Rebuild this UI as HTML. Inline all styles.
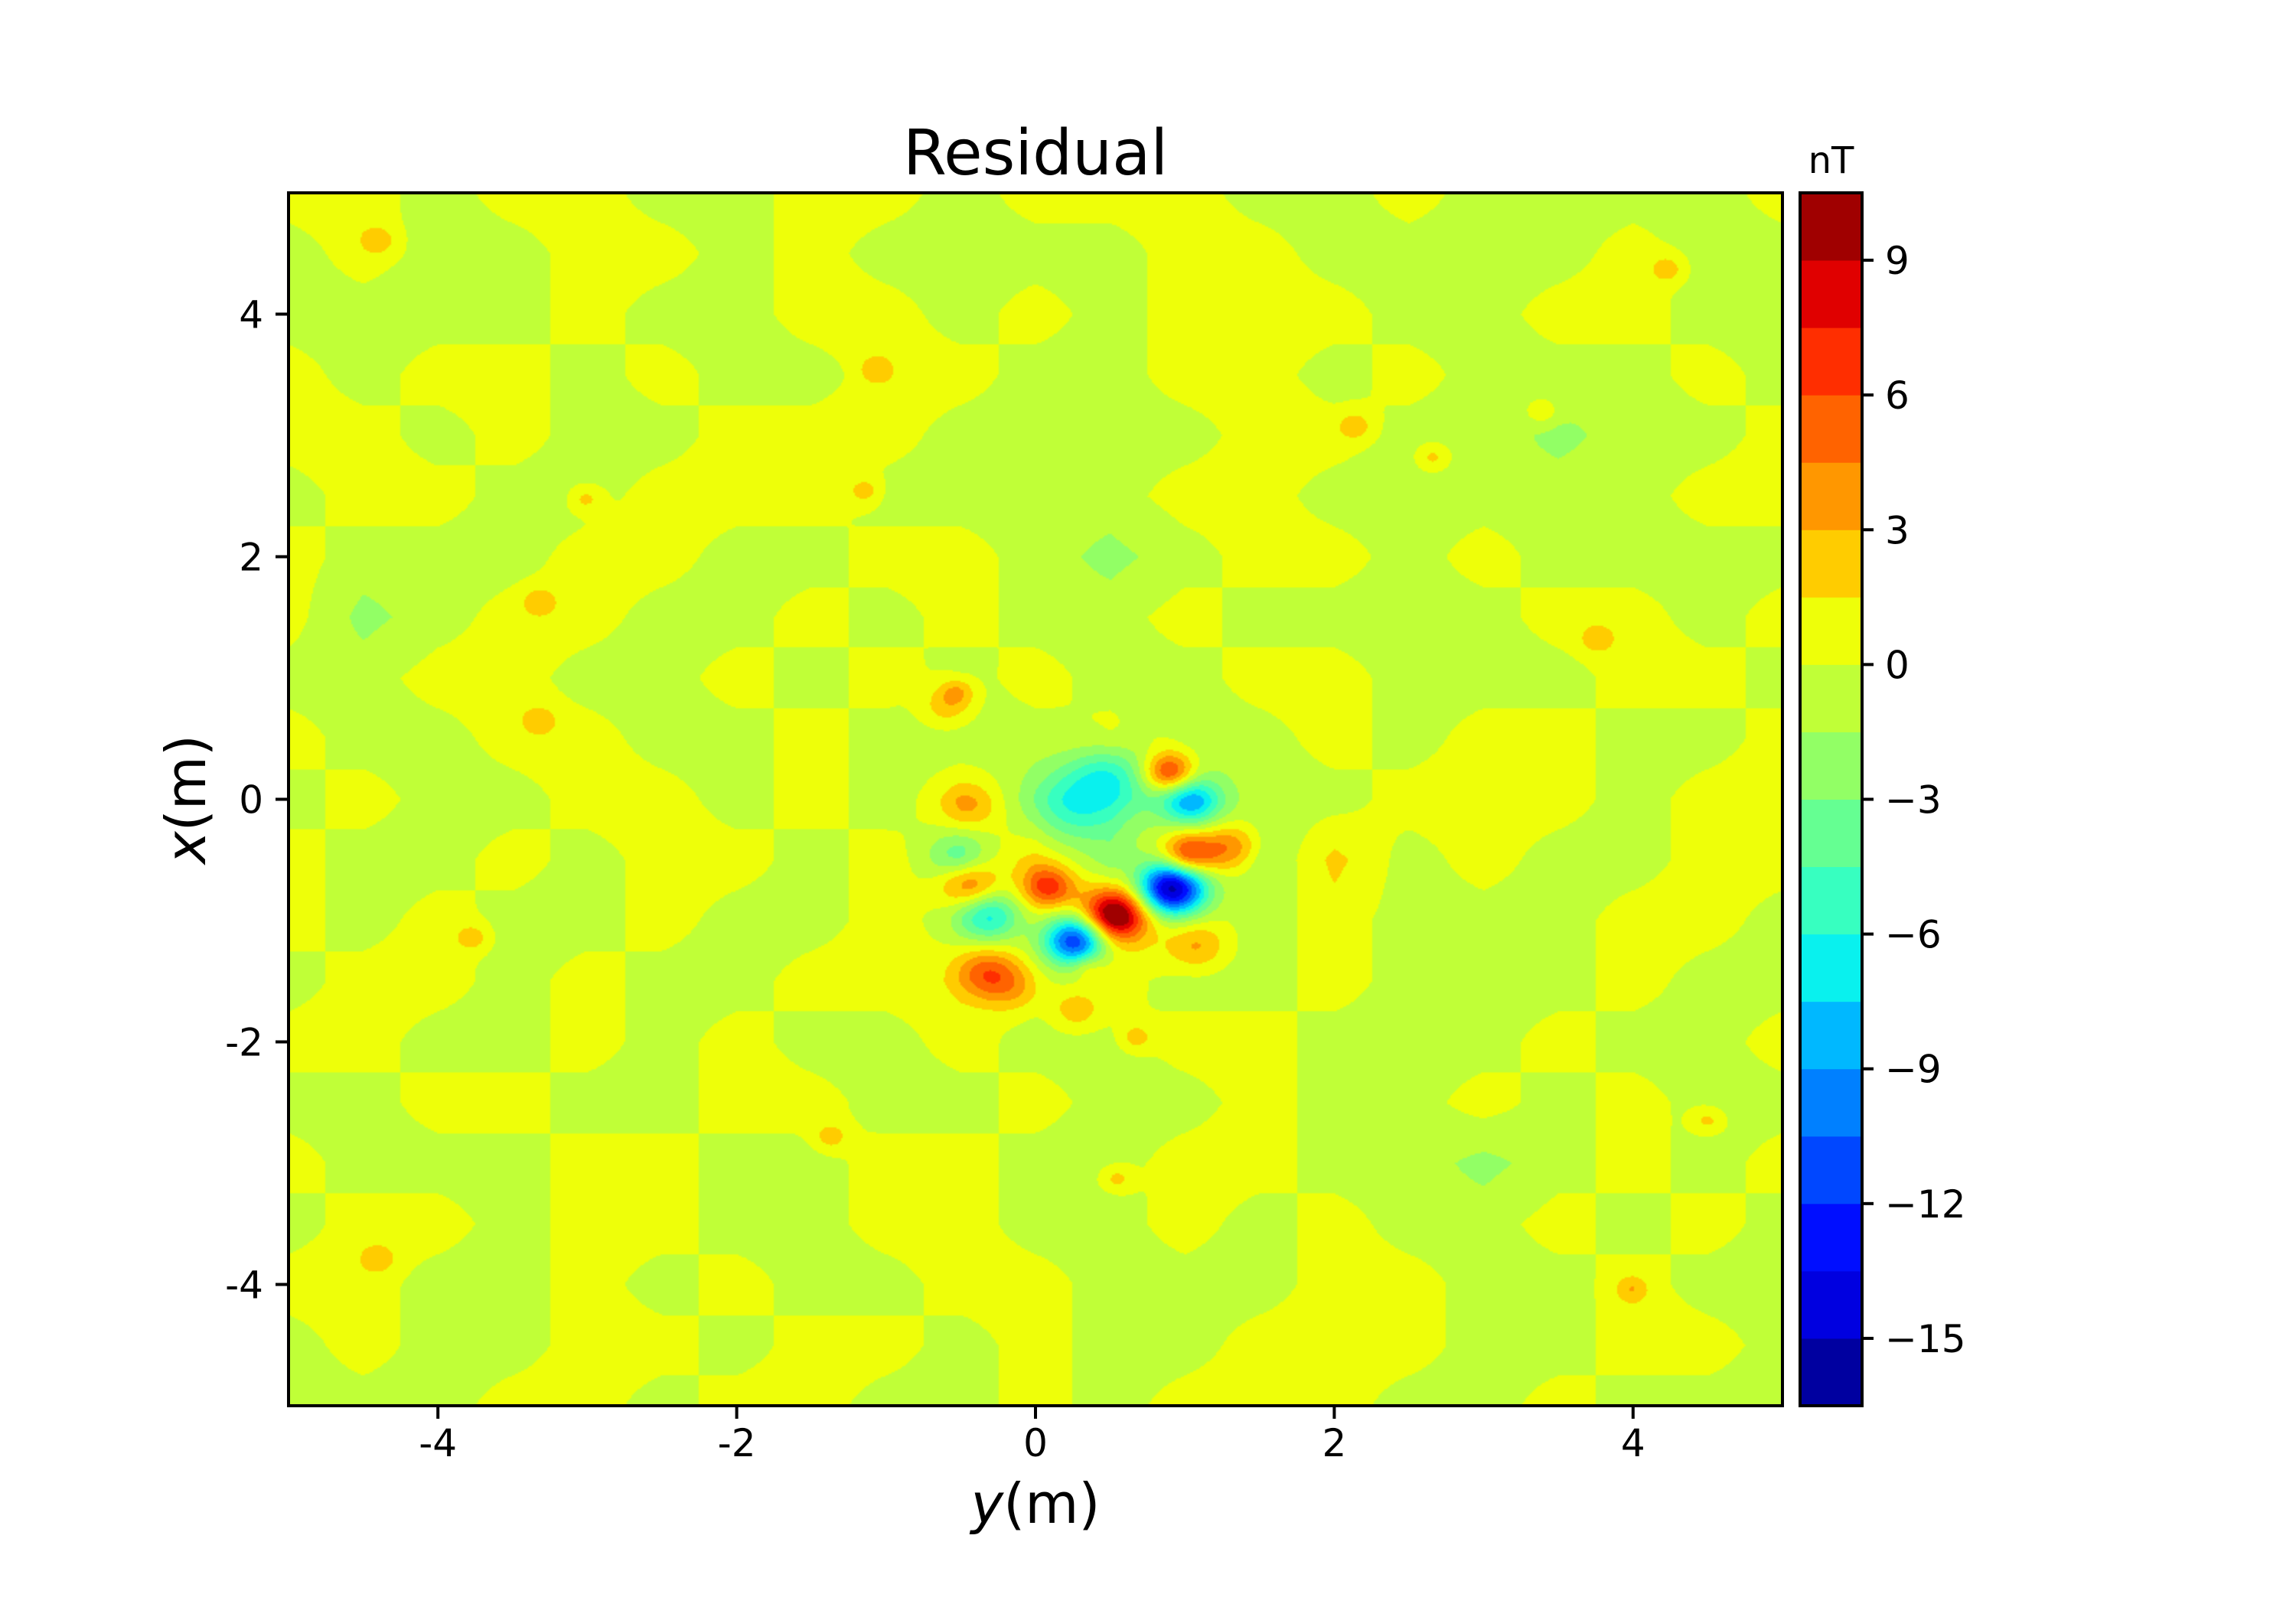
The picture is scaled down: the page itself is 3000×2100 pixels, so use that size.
<!DOCTYPE html>
<html><head><meta charset="utf-8"><style>
html,body{margin:0;padding:0;background:#fff;}
#wrap{position:relative;width:3000px;height:2100px;overflow:hidden;font-family:"DejaVu Sans","Liberation Sans",sans-serif;color:#000;}
</style></head><body>
<div id="wrap">
<canvas id="field" width="976" height="793" style="position:absolute;left:377px;top:252px;width:1952px;height:1585px;"></canvas>
<svg id="svg" width="3000" height="2100" style="position:absolute;left:0;top:0;"></svg>
</div>
<script>
// ---- data ----
const bgRows = [
"yygyyggyygyyyggygggg",
"gyggyygyggggyyggggygg",
"ggggyggyygygyyyggyygg",
"ygyygyggyyggyygygggyg",
"yygyggyyyggggyyggGggy",
"gyyggyyyggggyygggggyy",
"ygggyyggyygGgyygygggg",
"yGgyyggygyggyggggyygy",
"ggyyggygygyggyygggyyg",
"yggyyggygggyggygyyggy",
"gyggyygygygGGggyyygyy",
"yggygyygygoGoGogyggyy",
"ygyggyggygyoygygggyyg",
"gyygyggyyygyggygggygg",
"yyggygyggyggyygggyggy",
"ggyyggyyggyggyggygygg",
"ygggyyggyyggyyggGgygy",
"gyygyyggyyggygyggygyg",
"yyggygyggyygggyyggygg",
"gyggyygyygyggyyyggyyg",
"gggyygyyggygyyyggyggg"
];
const bgValues = {y:0.7, g:-0.7, G:-2.0, o:2.0};
// anomaly sources: position (y,x in m), amplitude (nT), width (m)
const srcY   = [0.53, 0.92, 0.27, -0.31, -0.45, 0.09, 0.90, 1.04, 0.24, 0.49, 1.02, 1.31, -0.33, -0.14, -0.45, 1.08, 0.27, -0.51, -0.59];
const srcX   = [-0.95,-0.73,-1.16,-0.96, -0.70,-0.72, 0.22,-0.02,-0.05, 0.19,-0.46,-0.39, -1.43, -1.55, -0.05,-1.21,-1.74, -0.48, 0.77];
const srcAmp = [11,  -17,  -13,  -6.5,   6.0,  6.0,  8.0, -7.5, -4.6, -4.2,  6.5,  4.5,   5.0,  3.0,   3.0,  3.2,  2.6,  -4.0,  2.8];
const srcSig = [0.15, 0.16, 0.15, 0.15, 0.14, 0.12, 0.12, 0.14, 0.22, 0.18, 0.13, 0.14, 0.15, 0.15, 0.14, 0.14, 0.12, 0.15, 0.12];
const spotY = [-4.40,-3.32,-1.07,-0.52,-1.14,-3.77,0.35,0.67,3.76,2.66,2.14,4.5,-4.40,3.99,-1.37,0.54,-3.01,4.23,3.39,-3.32];
const spotX = [4.61,0.65,3.54,0.89,2.54,-1.14,-1.38,-1.96,1.32,2.82,3.08,-2.65,-3.79,-4.04,-2.78,-3.13,2.48,4.37,3.20,1.63];
const spotAmp = [2.4,2.4,2.4,2.8,2.4,2.4,2.4,2.4,2.4,2.4,2.4,2.4,2.4,2.4,2.4,2.4,2.4,2.4,2.4,2.4];
const levels = [-16.5,-15,-13.5,-12,-10.5,-9,-7.5,-6,-4.5,-3,-1.5,0,1.5,3,4.5,6,7.5,9,10.5];
const xTicks = [-4,-2,0,2,4];
const xTickLabels = ["-4","-2","0","2","4"];
const yTicks = [4,2,0,-2,-4];
const yTickLabels = ["4","2","0","-2","-4"];
const cbTicks = [9,6,3,0,-3,-6,-9,-12,-15];
const cbTickLabels = ["9","6","3","0","\u22123","\u22126","\u22129","\u221212","\u221215"];

// ---- geometry ----
const L=377,R=2329,T=252,B=1837;
const sx = v => L + (v+5)/10*(R-L);
const sy = v => T + (5-v)/10*(B-T);
const CBL=2352, CBR=2433;
const cy = v => T + (10.5-v)/27*(B-T);

function seg(pts,t){
  for(let i=0;i<pts.length-1;i++){
    const [a,va]=pts[i],[b,vb]=pts[i+1];
    if(t<=b) return va+(vb-va)*(t-a)/(b-a);
  }
  return pts[pts.length-1][1];
}
function jet(t){
  const r=seg([[0,0],[0.35,0],[0.66,1],[0.89,1],[1,0.5]],t);
  const g=seg([[0,0],[0.125,0],[0.375,1],[0.64,1],[0.91,0],[1,0]],t);
  const b=seg([[0,0.5],[0.11,1],[0.34,1],[0.65,0],[1,0]],t);
  return [r,g,b].map(v=>Math.round(Math.max(0,Math.min(1,v))*255));
}
const nb = levels.length-1;
const bandColors = [];
for(let i=0;i<nb;i++) bandColors.push(jet((i+0.5)/nb));
function bandOf(v){
  for(let i=0;i<nb;i++) if(v<levels[i+1]) return i;
  return nb-1;
}
function bg(yv,xv){
  const c=(yv+5)/0.5, r=(5-xv)/0.5;
  const c0=Math.max(0,Math.min(19,Math.floor(c))), r0=Math.max(0,Math.min(19,Math.floor(r)));
  const fc=c-c0, fr=r-r0;
  const g=(rr,cc)=>bgValues[(bgRows[rr]||"")[cc]] ?? 0.7;
  return g(r0,c0)*(1-fc)*(1-fr)+g(r0,c0+1)*fc*(1-fr)+g(r0+1,c0)*(1-fc)*fr+g(r0+1,c0+1)*fc*fr;
}
function field(yv,xv){
  let v=bg(yv,xv);
  for(let i=0;i<srcY.length;i++){
    const d2=(yv-srcY[i])**2+(xv-srcX[i])**2;
    v+=srcAmp[i]*Math.exp(-d2/(2*srcSig[i]*srcSig[i]));
  }
  for(let i=0;i<spotY.length;i++){
    const d2=(yv-spotY[i])**2+(xv-spotX[i])**2;
    if(d2<0.25) v+=spotAmp[i]*Math.exp(-d2/(2*0.08*0.08));
  }
  return v;
}
// ---- render field ----
const cv=document.getElementById('field'), ctx=cv.getContext('2d');
const W=cv.width,H=cv.height, img=ctx.createImageData(W,H);
for(let j=0;j<H;j++){
  const xv=5-(j+0.5)/H*10;
  for(let i=0;i<W;i++){
    const yv=-5+(i+0.5)/W*10;
    const col=bandColors[bandOf(field(yv,xv))];
    const k=(j*W+i)*4;
    img.data[k]=col[0];img.data[k+1]=col[1];img.data[k+2]=col[2];img.data[k+3]=255;
  }
}
ctx.putImageData(img,0,0);

// ---- svg axes ----
const NS='http://www.w3.org/2000/svg', svg=document.getElementById('svg');
function mk(tag,attrs,text){
  const e=document.createElementNS(NS,tag);
  for(const k in attrs) e.setAttribute(k,attrs[k]);
  if(text!==undefined) e.textContent=text;
  svg.appendChild(e); return e;
}
for(let i=0;i<nb;i++){
  const r=mk('rect',{x:CBL,y:cy(levels[i+1]),width:CBR-CBL,height:cy(levels[i])-cy(levels[i+1])+0.5,fill:`rgb(${bandColors[i].join(',')})`});
  
  
}
let e=mk('rect',{x:CBL,y:T,width:CBR-CBL,height:B-T,fill:'none',stroke:'#000','stroke-width':4});


e=mk('rect',{x:L,y:T,width:R-L,height:B-T,fill:'none',stroke:'#000','stroke-width':4});


xTicks.forEach((v,i)=>{
  let t=mk('line',{x1:sx(v),x2:sx(v),y1:B,y2:B+17,stroke:'#000','stroke-width':4});
  
  
  t=mk('text',{x:sx(v),y:B+66,'font-size':50,'text-anchor':'middle'},xTickLabels[i]);
  
  
});
yTicks.forEach((v,i)=>{
  let t=mk('line',{x1:L-17,x2:L,y1:sy(v),y2:sy(v),stroke:'#000','stroke-width':4});
  
  
  t=mk('text',{x:L-33,y:sy(v)+18,'font-size':50,'text-anchor':'end'},yTickLabels[i]);
  
  
});
cbTicks.forEach((v,i)=>{
  let t=mk('line',{x1:CBR,x2:CBR+15,y1:cy(v),y2:cy(v),stroke:'#000','stroke-width':4});
  
  
  t=mk('text',{x:CBR+30,y:cy(v)+18,'font-size':50},cbTickLabels[i]);
  
  
});
e=mk('text',{x:(L+R)/2,y:228,'font-size':82,'text-anchor':'middle'},'Residual');


e=mk('text',{x:(CBL+CBR)/2,y:226,'font-size':48,'text-anchor':'middle'},'nT');


e=mk('text',{x:(L+R)/2,y:1990,'font-size':72,'text-anchor':'middle'});


e.innerHTML='<tspan font-style="italic">y</tspan>(m)';
e=mk('text',{x:0,y:0,'font-size':72,'text-anchor':'middle',transform:`translate(268,${(T+B)/2}) rotate(-90)`});


e.innerHTML='<tspan font-style="italic">x</tspan>(m)';
</script>
</body></html>
